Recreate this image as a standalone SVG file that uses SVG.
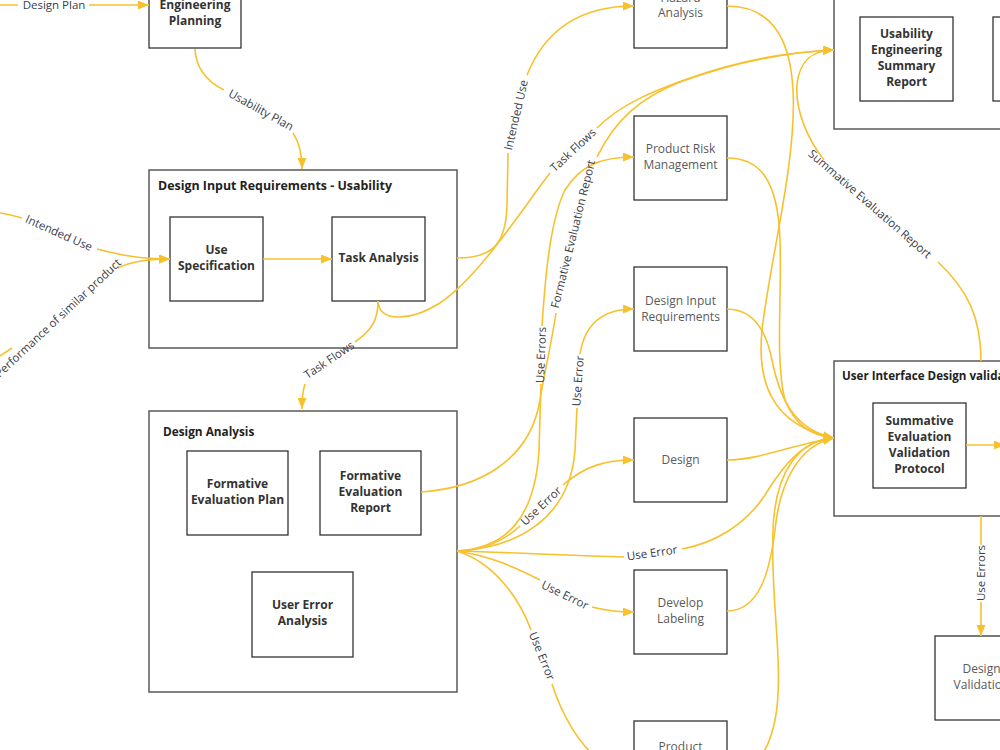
<svg xmlns="http://www.w3.org/2000/svg" width="1000" height="750" viewBox="0 0 1000 750">
<defs>
<marker id="arr" markerWidth="11" markerHeight="9" refX="11" refY="4.5" orient="auto" markerUnits="userSpaceOnUse"><path d="M0,0 L11,4.5 L0,9 z" fill="#F7C12E"/></marker>
<style>
.c{fill:none;stroke:#F7C12E;stroke-width:1.6;marker-end:url(#arr)}
.box{fill:#fff;stroke:#333;stroke-width:1.3}
.cont{fill:#fff;stroke:#5a5a5a;stroke-width:1.5}
.bt{font-family:"Open Sans","Liberation Sans",sans-serif;font-size:12px;font-weight:bold;fill:#333;text-anchor:middle}
.tt{font-family:"Open Sans","Liberation Sans",sans-serif;font-size:11.8px;font-weight:bold;fill:#222}
.gt{font-family:"Open Sans","Liberation Sans",sans-serif;font-size:12px;fill:#5a5a5a;text-anchor:middle}
.lb{font-family:"Open Sans","Liberation Sans",sans-serif;font-size:11.5px;fill:#3a3d4a;text-anchor:middle}
</style>
</defs>
<rect width="1000" height="750" fill="#fff"/>

<g id="eng-planning"><rect class="box" x="149" y="-36" width="92" height="84"/><text class="bt" x="195" y="9">Engineering</text><text class="bt" x="195" y="25">Planning</text></g>

<g id="dir-usability"><rect class="cont" x="149" y="170" width="308" height="178"/><text class="tt" x="158" y="190" style="font-size:12.4px">Design Input Requirements - Usability</text></g>
<g id="use-spec"><rect class="box" x="170" y="217" width="93" height="84"/><text class="bt" x="216.5" y="254">Use</text><text class="bt" x="216.5" y="270">Specification</text></g>
<g id="task-analysis"><rect class="box" x="332" y="217" width="93" height="84"/><text class="bt" x="378.5" y="262">Task Analysis</text></g>

<g id="design-analysis"><rect class="cont" x="149" y="411" width="308" height="281"/><text class="tt" x="163" y="436">Design Analysis</text></g>
<g id="fe-plan"><rect class="box" x="187" y="451" width="101" height="84"/><text class="bt" x="237.5" y="488">Formative</text><text class="bt" x="237.5" y="504">Evaluation Plan</text></g>
<g id="fe-report"><rect class="box" x="320" y="451" width="101" height="84"/><text class="bt" x="370.5" y="480">Formative</text><text class="bt" x="370.5" y="496">Evaluation</text><text class="bt" x="370.5" y="512">Report</text></g>
<g id="user-error"><rect class="box" x="252" y="572" width="101" height="85"/><text class="bt" x="302.5" y="609">User Error</text><text class="bt" x="302.5" y="625">Analysis</text></g>

<g id="hazard"><rect class="box" x="634" y="-36" width="93" height="84"/><text class="gt" x="680.5" y="2">Hazard</text><text class="gt" x="680.5" y="17">Analysis</text></g>
<g id="prm"><rect class="box" x="634" y="116" width="93" height="84"/><text class="gt" x="680.5" y="153">Product Risk</text><text class="gt" x="680.5" y="169">Management</text></g>
<g id="dir"><rect class="box" x="634" y="267" width="93" height="84"/><text class="gt" x="680.5" y="305">Design Input</text><text class="gt" x="680.5" y="321">Requirements</text></g>
<g id="design"><rect class="box" x="634" y="418" width="93" height="84"/><text class="gt" x="680.5" y="464">Design</text></g>
<g id="labeling"><rect class="box" x="634" y="570" width="93" height="84"/><text class="gt" x="680.5" y="607">Develop</text><text class="gt" x="680.5" y="623">Labeling</text></g>
<g id="product"><rect class="box" x="634" y="721" width="93" height="84"/><text class="gt" x="680.5" y="751">Product</text></g>

<g id="summary"><rect class="cont" x="834" y="-40" width="200" height="169"/></g>
<g id="ue-summary"><rect class="box" x="860" y="17" width="93" height="84"/><text class="bt" x="906.5" y="38">Usability</text><text class="bt" x="906.5" y="54">Engineering</text><text class="bt" x="906.5" y="70">Summary</text><text class="bt" x="906.5" y="86">Report</text></g>
<g id="summary-2"><rect class="box" x="993" y="17" width="93" height="84"/></g>

<g id="uidv"><rect class="cont" x="834" y="361" width="200" height="155"/><text class="tt" x="842" y="380" style="font-size:11.6px">User Interface Design validation</text></g>
<g id="sevp"><rect class="box" x="873" y="403" width="93" height="85"/><text class="bt" x="919.5" y="425">Summative</text><text class="bt" x="919.5" y="441">Evaluation</text><text class="bt" x="919.5" y="457">Validation</text><text class="bt" x="919.5" y="473">Protocol</text></g>
<g id="design-validation"><rect class="box" x="935" y="636" width="93" height="84"/><text class="gt" x="981.5" y="673">Design</text><text class="gt" x="981.5" y="689">Validation</text></g>

<g id="connectors">
<path class="c" d="M0,5 L18,5 M89,5 L149,5"/>
<path class="c" d="M195,49 C196,70 208,82 224,90 M293,133 C299,142 302,152 302,169"/>
<path class="c" d="M0,213 C8,214 15,216 22,218 M97,249 C120,255 140,259 170,259"/>
<path class="c" d="M0,356 C4,353 8,351 12,348 M118,268 C130,262 145,259 170,259"/>
<path class="c" d="M263,259 L332,259"/>
<path class="c" d="M457,258 C492,258 506,245 507,205 L508,153 M527,75 C545,30 580,6 634,6"/>
<path class="c" d="M378,301 C378,322 410,322 440,303 C480,276 525,205 550,173 M597,128 C620,105 650,92 690,78 C740,60 790,52 834,50"/>
<path class="c" d="M378,301 C378,320 372,330 355,342 M305,384 C303,390 302,398 302,409"/>
<path class="c" d="M421,492 C480,488 530,460 540,400 C545,370 552,340 556,313 M597,157 C615,120 640,98 680,82 C735,62 790,52 834,50"/>
<path class="c" d="M457,551 C505,548 535,520 539,450 L541,384 M542,326 C545,280 550,220 565,190 C580,166 600,157 634,157"/>
<path class="c" d="M457,551 C515,548 570,520 575,450 L577,408 M580,354 C585,322 605,309 634,309"/>
<path class="c" d="M457,551 C485,550 505,540 520,526 M563,485 C585,466 605,460 634,460"/>
<path class="c" d="M457,551 C520,553 580,556 624,557 M682,549 C715,543 745,525 765,495 C785,462 805,440 834,438"/>
<path class="c" d="M457,551 C490,556 515,567 540,580 M592,607 C607,611 620,612 634,612"/>
<path class="c" d="M457,551 C492,562 518,595 531,630 M552,684 C562,715 578,742 595,756 C608,764 618,765 634,765"/>
<path class="c" d="M727,6 C765,6 790,30 793,90 C797,160 770,260 762,330 C757,380 770,425 834,438"/>
<path class="c" d="M727,158 C760,158 778,180 780,240 C782,300 775,360 785,400 C795,425 810,435 834,438"/>
<path class="c" d="M727,309 C750,309 765,325 772,360 C780,400 795,430 834,438"/>
<path class="c" d="M727,460 C760,460 790,445 834,438"/>
<path class="c" d="M727,611 C760,611 770,570 775,530 C780,480 800,445 834,438"/>
<path class="c" d="M727,770 C755,770 768,755 775,720 C785,670 770,600 773,530 C775,470 800,440 834,438"/>
<path class="c" d="M981,361 C981,318 968,290 938,262 M824,160 C808,140 795,110 797,85 C799,62 812,50 834,50"/>
<path class="c" d="M981,516 L981,545 M981,602 L981,636"/>
<path class="c" d="M966,445 L1005,445"/>
</g>

<g id="labels">
<text class="lb" transform="translate(54,5)" dy="4">Design Plan</text>
<text class="lb" transform="translate(261,110) rotate(29)" dy="4">Usability Plan</text>
<text class="lb" transform="translate(59,233) rotate(24)" dy="4">Intended Use</text>
<text class="lb" transform="translate(58,318) rotate(-43)" dy="4">Performance of similar product</text>
<text class="lb" transform="translate(516,115) rotate(-77)" dy="4">Intended Use</text>
<text class="lb" transform="translate(573,150) rotate(-43)" dy="4">Task Flows</text>
<text class="lb" transform="translate(329,360) rotate(-34)" dy="4">Task Flows</text>
<text class="lb" transform="translate(573,234) rotate(-76)" dy="4">Formative Evaluation Report</text>
<text class="lb" transform="translate(541,355) rotate(-88)" dy="4">Use Errors</text>
<text class="lb" transform="translate(578,381) rotate(-86)" dy="4">Use Error</text>
<text class="lb" transform="translate(541,506) rotate(-43)" dy="4">Use Error</text>
<text class="lb" transform="translate(652,553) rotate(-8)" dy="4">Use Error</text>
<text class="lb" transform="translate(565,595) rotate(26)" dy="4">Use Error</text>
<text class="lb" transform="translate(542,656) rotate(68)" dy="4">Use Error</text>
<text class="lb" transform="translate(870,204) rotate(41)" dy="4">Summative Evaluation Report</text>
<text class="lb" transform="translate(981,573) rotate(-90)" dy="4">Use Errors</text>
</g>
</svg>
